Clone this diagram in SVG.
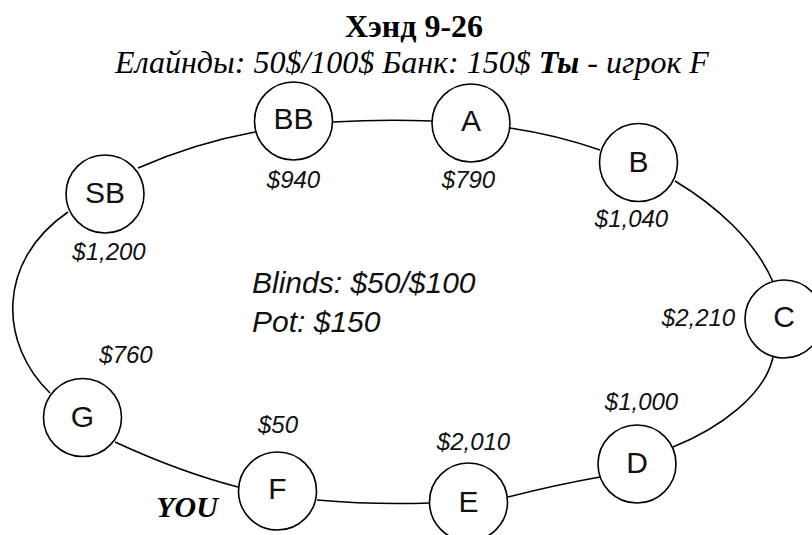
<svg xmlns="http://www.w3.org/2000/svg" width="812" height="535" viewBox="0 0 812 535">
<style>
.bg{fill:#fff}
.seat{fill:#fff;stroke:#000;stroke-width:1.6}
.lbl{font-family:"Liberation Sans",Arial,sans-serif;font-size:30px;fill:#111;text-anchor:middle}
.amt{font-family:"Liberation Sans",Arial,sans-serif;font-size:24px;font-style:italic;fill:#111;text-anchor:middle}
.edge{fill:none;stroke:#000;stroke-width:1.6}
.title{font-family:"Liberation Serif","Times New Roman",serif;font-size:32px;font-weight:bold;fill:#000;text-anchor:middle}
.sub{font-family:"Liberation Serif","Times New Roman",serif;font-size:32px;font-style:italic;fill:#000;text-anchor:middle}
.info{font-family:"Liberation Sans",Arial,sans-serif;font-size:30px;font-style:italic;fill:#111}
.you{font-family:"Liberation Serif","Times New Roman",serif;font-size:30px;font-style:italic;font-weight:bold;fill:#000;text-anchor:middle}
</style>
<rect class="bg" x="0" y="0" width="812" height="535"/>
<text class="title" x="414" y="37">Хэнд 9-26</text>
<text class="sub" x="412" y="73">Елайнды: 50$/100$ Банк: 150$ <tspan font-weight="bold">Ты</tspan> - игрок F</text>
<g id="connectors">
<path class="edge" d="M138,168 Q195,143 255,132"/>
<path class="edge" d="M333,122 Q383,119 432,121"/>
<path class="edge" d="M510,128 Q557,135 600,150"/>
<path class="edge" d="M675,181 C715,205 755,240 773,282"/>
<path class="edge" d="M773,357 C765,395 720,428 673,447"/>
<path class="edge" d="M600,477 Q555,485 508,497"/>
<path class="edge" d="M430,503 Q373,505 317,500"/>
<path class="edge" d="M238,487 Q180,472 115,442"/>
<path class="edge" d="M50,393 C0,345 -5,262 68,212"/>
</g>
<g id="node-SB"><circle class="seat" cx="105" cy="194" r="39"/><text class="lbl" x="105" y="203">SB</text><text class="amt" x="109" y="260">$1,200</text></g>
<g id="node-BB"><circle class="seat" cx="293.5" cy="121" r="39"/><text class="lbl" x="293.5" y="129">BB</text><text class="amt" x="293.5" y="188">$940</text></g>
<g id="node-A"><circle class="seat" cx="471" cy="123" r="39"/><text class="lbl" x="471" y="131">A</text><text class="amt" x="468.5" y="188">$790</text></g>
<g id="node-B"><circle class="seat" cx="638.5" cy="162.5" r="39"/><text class="lbl" x="638.5" y="172">B</text><text class="amt" x="631.5" y="227">$1,040</text></g>
<g id="node-C"><circle class="seat" cx="784" cy="319" r="39"/><text class="lbl" x="784" y="327">C</text><text class="amt" x="698.5" y="326">$2,210</text></g>
<g id="node-D"><circle class="seat" cx="637" cy="464" r="39"/><text class="lbl" x="637" y="473">D</text><text class="amt" x="641.5" y="410">$1,000</text></g>
<g id="node-E"><circle class="seat" cx="468.5" cy="502" r="39"/><text class="lbl" x="468.5" y="512">E</text><text class="amt" x="473.5" y="450">$2,010</text></g>
<g id="node-F"><circle class="seat" cx="277.5" cy="491" r="39"/><text class="lbl" x="277.5" y="499">F</text><text class="amt" x="278" y="433">$50</text><text class="you" x="187" y="517">YOU</text></g>
<g id="node-G"><circle class="seat" cx="82.5" cy="417.5" r="39"/><text class="lbl" x="82.5" y="427">G</text><text class="amt" x="126" y="363">$760</text></g>
<g id="center-info"><text class="info" x="252" y="293">Blinds: $50/$100</text><text class="info" x="252" y="332">Pot: $150</text></g>
</svg>
